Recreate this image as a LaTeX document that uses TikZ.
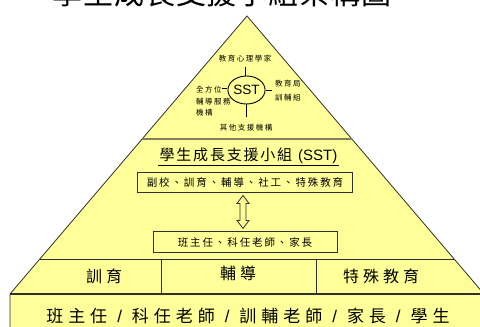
\documentclass[tikz,border=0pt]{standalone}
\usepackage{fontspec}
\setmainfont{Liberation Sans}
\newfontfamily\cjk{Noto Sans CJK TC}
\usetikzlibrary{calc,shapes.geometric}
\definecolor{pyr}{HTML}{FFFF99}
\definecolor{edge}{HTML}{303030}
\definecolor{sepc}{HTML}{80805A}
\newcommand{\slsep}{\hspace{10pt}{\normalfont/}\hspace{10pt}}
\tikzset{
  tiny/.style={inner sep=0pt, font=\cjk\fontsize{7.5}{9}\selectfont\addfontfeatures{LetterSpace=20}},
  boxtxt/.style={draw=edge, line width=0.9pt, inner sep=0pt, font=\cjk\fontsize{10.5}{12}\selectfont\addfontfeatures{LetterSpace=18}},
  celltxt/.style={inner sep=0pt, font=\cjk\fontsize{16}{18}\selectfont\addfontfeatures{LetterSpace=25}},
  spoke/.style={draw=black, line width=0.8pt}
}
\begin{document}
\begin{tikzpicture}[x=1pt,y=-1pt]
\useasboundingbox (0,0) rectangle (480,327);
\clip (0,0) rectangle (480,327);
% title (cut off at the top)
\node[anchor=base, inner sep=0pt, font=\cjk\fontsize{30}{30}\selectfont\addfontfeatures{LetterSpace=3}] (title) at (222,4) {學生成長支援小組架構圖};
% pyramid
\fill[pyr] (247,16) -- (10,294) -- (10,340) -- (484,340) -- (484,294) -- cycle;
\draw[edge, line width=0.8pt] (10,340) -- (10,294) -- (247,16) -- (484,294) -- (484,340);
\draw[sepc, line width=1.8pt] (142.1,139) -- (351.9,139);
\draw[edge, line width=0.9pt] (39.8,259) -- (454.2,259);
\draw[edge, line width=1.2pt] (10,294) -- (484,294);
\draw[edge, line width=0.9pt] (161,259) -- (161,294);
\draw[edge, line width=0.9pt] (316,259) -- (316,294);
% top section
\node[ellipse, draw=black, line width=0.9pt, minimum width=37pt, minimum height=28pt, inner sep=0pt, font=\fontsize{13.5}{14}\selectfont] (sst) at (246.5,90) {SST};
\node[tiny] (l1) at (245,59) {教育心理學家};
\node[tiny, anchor=west, align=left, font=\cjk\fontsize{7.5}{14}\selectfont\addfontfeatures{LetterSpace=20}] (l2) at (275,91) {教育局\\訓輔組};
\node[tiny, anchor=west, align=left, font=\cjk\fontsize{7.5}{11.5}\selectfont\addfontfeatures{LetterSpace=20}] (l3) at (196,101.5) {全方位\\輔導服務\\機構};
\node[tiny] (l4) at (246,128) {其他支援機構};
\coordinate (c1) at (245.5,67);
\coordinate (c2) at (272,90);
\coordinate (c3) at (222,88);
\coordinate (c4) at (246.5,117);
\draw[spoke] (c1) -- (c1 |- sst.north);
\draw[spoke] (sst.east) -- (c2);
\draw[spoke] (c3) -- (c3 -| sst.west);
\draw[spoke] (sst.south) -- (c4);
% middle section
\node[inner sep=1pt, font=\fontsize{15}{16}\selectfont] (mt) at (248.5,156) {{\cjk\addfontfeatures{LetterSpace=12}學生成長支援小組}\hspace{6pt}(SST)};
\draw[black, line width=0.8pt] (mt.south west) -- (mt.south east);
\node[boxtxt, minimum width=215pt, minimum height=20pt] (b1) at (245,182) {副校、訓育、輔導、社工、特殊教育};
\node[boxtxt, minimum width=184pt, minimum height=21pt] (b2) at (245,242) {班主任、科任老師、家長};
\draw[edge, fill=pyr, line width=0.8pt]
  ($(b1.south)+(-2,3)$) -- ++(6,8) -- ++(-3,0) -- ++(0,17) -- ++(3,0) -- ++(-6,8) -- ++(-6,-8) -- ++(3,0) -- ++(0,-17) -- ++(-3,0) -- cycle;
% lower rows
\node[celltxt] (r1) at (104,276) {訓育};
\node[celltxt] (r2) at (238,273) {輔導};
\node[celltxt] (r3) at (381,276) {特殊教育};
\node[inner sep=0pt, font=\cjk\fontsize{17}{18}\selectfont\addfontfeatures{LetterSpace=29}] (bot) at (248,316) {班主任\slsep 科任老師\slsep 訓輔老師\slsep 家長\slsep 學生};
\end{tikzpicture}
\end{document}
